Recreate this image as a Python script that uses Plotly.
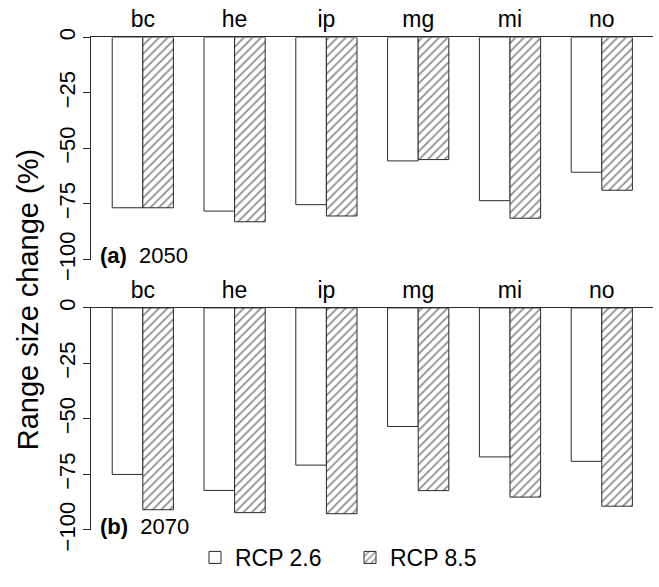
import plotly.graph_objects as go

categories = ["bc", "he", "ip", "mg", "mi", "no"]
rcp26_2050 = [-76.7, -78.2, -75.3, -55.6, -73.5, -60.7]
rcp85_2050 = [-76.7, -83.0, -80.4, -55.0, -81.4, -68.8]
rcp26_2070 = [-75.0, -82.2, -70.8, -53.4, -67.1, -69.1]
rcp85_2070 = [-90.9, -92.2, -92.7, -82.3, -85.2, -89.3]
tick_vals = [0, -25, -50, -75, -100]
tick_text = ["0", "\u221225", "\u221250", "\u221275", "\u2212100"]
panel_labels = [("(a)", "2050"), ("(b)", "2070")]
series_names = ["RCP 2.6", "RCP 8.5"]

W, H = 659, 587
FONT = "Liberation Sans, Arial, sans-serif"
LINE = "#2a2a2a"

def py(p):
    return 1 - p / H

fig = go.Figure()

panels = [
    (rcp26_2050, rcp85_2050, "x", "y", True),
    (rcp26_2070, rcp85_2070, "x2", "y2", False),
]
for v26, v85, xa, ya, show in panels:
    fig.add_trace(go.Bar(
        x=categories, y=v26, name=series_names[0], xaxis=xa, yaxis=ya,
        marker=dict(color="white", line=dict(color=LINE, width=1)),
        legendgroup="a", showlegend=show,
    ))
    fig.add_trace(go.Bar(
        x=categories, y=v85, name=series_names[1], xaxis=xa, yaxis=ya,
        marker=dict(color="white", line=dict(color=LINE, width=1),
                    pattern=dict(shape="/", fgcolor="#1a1a1a", bgcolor="white",
                                 size=6, solidity=0.3)),
        legendgroup="b", showlegend=show,
    ))

xdom = [91.4 / W, 653.2 / W]
xcommon = dict(domain=xdom, range=[-0.56, 5.56], side="top", showline=True,
               linecolor=LINE, linewidth=1, ticks="", showgrid=False,
               zeroline=False, tickfont=dict(size=23, color="black", family=FONT))
ycommon = dict(range=[-100, 0], tickvals=tick_vals, ticktext=tick_text,
               tickangle=-90, ticks="outside", ticklen=7, tickcolor=LINE,
               showline=True, linecolor=LINE, linewidth=1, showgrid=False,
               zeroline=False, ticklabelstandoff=0,
               tickfont=dict(size=22, color="black", family=FONT))

fig.update_layout(
    width=W, height=H,
    margin=dict(l=0, r=0, t=0, b=0),
    paper_bgcolor="white", plot_bgcolor="white",
    barmode="group", bargap=1 / 3, bargroupgap=0,
    font=dict(family=FONT, color="black"),
    xaxis=dict(anchor="y", **xcommon),
    yaxis=dict(anchor="x", domain=[py(264), py(30)], **ycommon),
    xaxis2=dict(anchor="y2", **xcommon),
    yaxis2=dict(anchor="x2", domain=[py(549), py(315)], **ycommon),
    legend=dict(orientation="h", x=195 / W, xanchor="left", y=py(578),
                yanchor="middle", font=dict(size=23, family=FONT),
                bgcolor="rgba(0,0,0,0)", itemwidth=30, entrywidth=110,
                entrywidthmode="pixels"),
)

annotations = [
    dict(x=28 / W, y=py(307), xref="paper", yref="paper", xanchor="center",
         yanchor="middle", text="Range size change (%)", textangle=-90,
         showarrow=False, font=dict(size=29, family=FONT, color="black")),
]
for (lab, yr), ypix in zip(panel_labels, [260, 545]):
    annotations.append(dict(
        x=98 / W, y=py(ypix), xref="paper", yref="paper", xanchor="left",
        yanchor="middle", text=f"<b>{lab}</b>  {yr}", showarrow=False,
        font=dict(size=22, family=FONT, color="black")))
fig.update_layout(annotations=annotations)

fig.write_html("out.html")
